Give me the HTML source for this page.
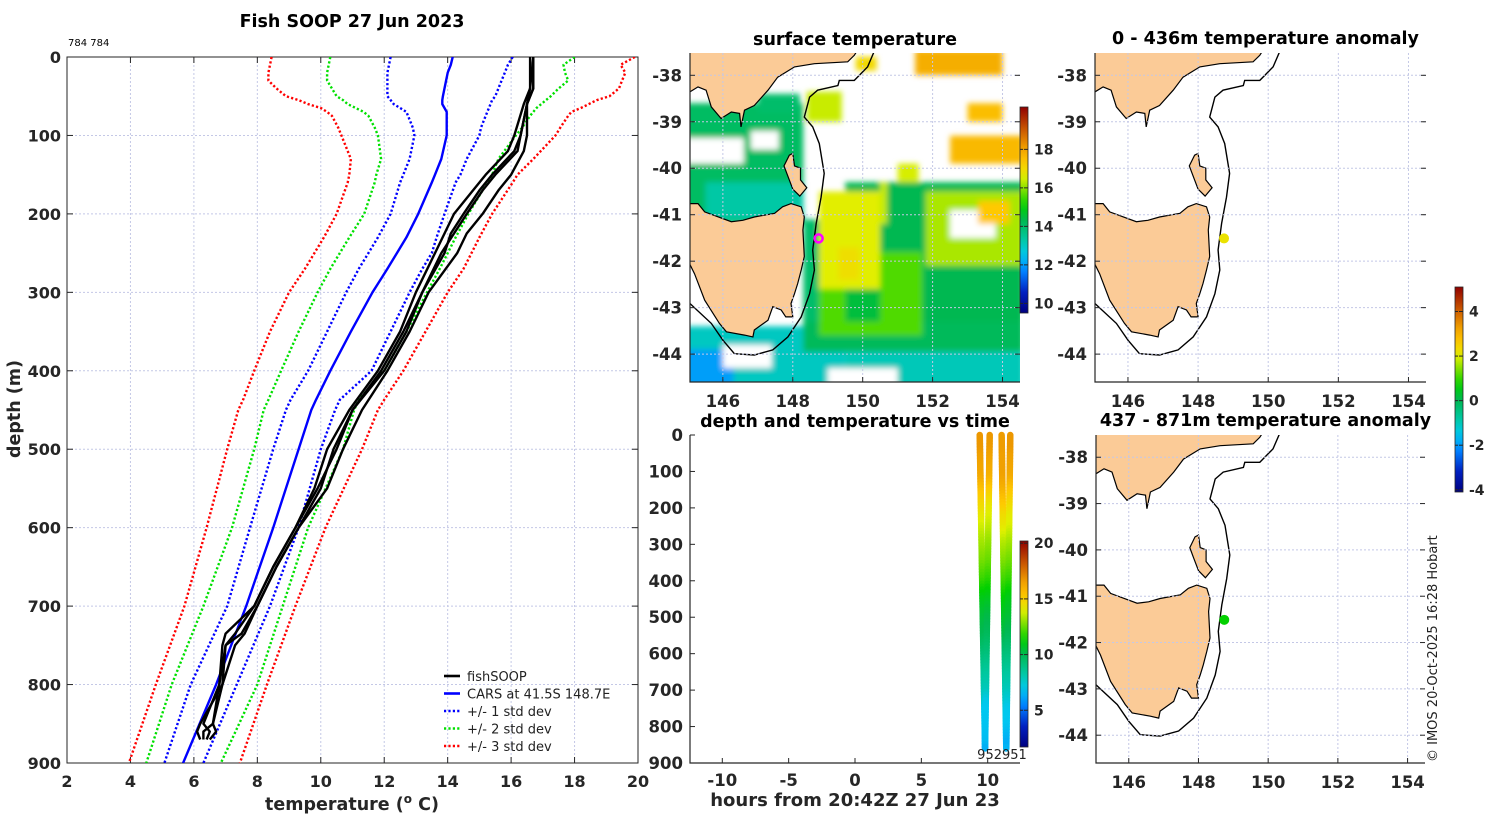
<!DOCTYPE html>
<html><head><meta charset="utf-8">
<style>
html,body{margin:0;padding:0;background:#fff;}
svg{display:block;font-family:"DejaVu Sans","Liberation Sans",sans-serif;}
.tl{font-weight:bold;fill:#262626;}
.ttl{font-weight:bold;fill:#000;}
</style></head>
<body>
<svg id="fig" width="1500" height="820" viewBox="0 0 1500 820" xmlns="http://www.w3.org/2000/svg">
<defs>
<filter id="blur2" filterUnits="userSpaceOnUse" x="680" y="40" width="350" height="360"><feGaussianBlur stdDeviation="3"/></filter>
<clipPath id="clipSST"><rect x="690" y="53" width="330" height="329"/></clipPath>
<clipPath id="clipA1"><rect x="1095" y="53" width="331" height="329"/></clipPath>
<clipPath id="clipA2"><rect x="1096" y="435" width="329" height="328"/></clipPath>
<clipPath id="clipMain"><rect x="67" y="57" width="571" height="706"/></clipPath>
</defs>
<g id="profile"></g>
<g id="sst"></g>
<g id="tvt"></g>
<g id="anom1"></g>
<g id="anom2"></g>
</svg>
<script>
// ---------- data ----------
const stdDepths = [0,10,20,30,40,50,55,60,65,70,75,90,100,130,150,160,200,230,250,270,300,350,400,437,450,500,600,700,800,900];
const carsMean = [14.16,14.1,14.0,13.95,13.9,13.85,13.83,13.83,13.9,13.97,13.97,13.97,13.97,13.8,13.6,13.5,13.07,12.7,12.4,12.1,11.63,10.95,10.3,9.85,9.7,9.3,8.5,7.65,6.7,5.66];
const minus1 = [12.2,12.15,12.1,12.1,12.1,12.1,12.2,12.3,12.5,12.7,12.75,12.9,12.95,12.8,12.6,12.5,12.2,11.8,11.5,11.2,10.8,10.2,9.6,9.05,8.9,8.5,7.77,7.05,5.9,5.07];
const plus1 = [16.05,15.9,15.8,15.7,15.6,15.5,15.4,15.35,15.3,15.25,15.2,15.05,15.0,14.6,14.4,14.25,13.9,13.65,13.5,13.2,12.8,12.2,11.6,10.6,10.45,10.0,9.3,8.4,7.35,6.3];
const minus2 = [10.3,10.25,10.2,10.2,10.35,10.5,10.7,10.85,11.1,11.35,11.5,11.7,11.8,11.9,11.75,11.7,11.37,10.9,10.6,10.3,9.9,9.3,8.75,8.35,8.2,7.9,7.2,6.3,5.3,4.5];
const plus2 = [18.0,17.65,17.7,17.8,17.5,17.25,17.1,16.95,16.8,16.7,16.6,16.35,16.15,15.6,15.4,15.25,14.65,14.25,14.0,13.75,13.35,12.7,12.0,11.2,11.05,10.7,9.6,8.8,8.0,6.85];
const minus3 = [8.45,8.4,8.35,8.35,8.6,8.9,9.3,9.6,10.0,10.2,10.35,10.55,10.65,10.95,10.9,10.85,10.5,10.1,9.8,9.5,9.0,8.4,7.9,7.55,7.4,7.05,6.4,5.7,4.8,3.95];
const plus3 = [19.9,19.45,19.6,19.5,19.4,19.1,18.7,18.45,18.2,17.9,17.8,17.55,17.4,16.7,16.2,16.05,15.4,15.0,14.75,14.5,14.0,13.3,12.6,12.0,11.8,11.3,10.15,9.2,8.3,7.45];

const fishDepths = [0,40,60,100,120,150,170,200,225,250,300,350,400,450,500,550,600,650,700,735,750,800,850,860,870];
const cast1 = [16.7,16.7,16.5,16.3,16.2,15.5,15.1,14.6,14.2,13.8,13.2,12.7,12.0,11.0,10.4,10.0,9.3,8.6,8.0,7.5,7.0,6.9,6.2,6.1,6.2];
const cast2 = [16.7,16.6,16.4,16.1,15.9,15.2,14.8,14.2,13.9,13.6,13.0,12.5,11.8,10.9,10.2,9.8,9.2,8.5,7.9,7.0,6.9,6.8,6.6,6.3,6.3];
const cast3 = [16.6,16.6,16.5,16.5,16.4,16.0,15.6,15.1,14.6,14.3,13.4,12.8,12.1,11.3,10.7,10.2,9.3,8.6,8.0,7.6,7.3,6.9,6.6,6.7,6.5];
const cast4 = [16.7,16.7,16.5,16.3,16.1,15.4,15.0,14.5,14.1,13.9,13.2,12.6,11.9,11.0,10.5,9.9,9.2,8.5,7.9,7.3,7.0,6.8,6.3,6.5,6.4];
const tempTicks = [2,4,6,8,10,12,14,16,18,20];
const depthTicks = [0,100,200,300,400,500,600,700,800,900];

const castTopHours = [9.4,10.15,11.05,11.7];
const castBottomHours = [9.8,9.8,11.4,11.4];
const castMaxDepth = [860,860,860,860];
const hourTicks = [-10,-5,0,5,10];

const lonTicks = [146,148,150,152,154];
const latTicks = [-38,-39,-40,-41,-42,-43,-44];
const obsLon = [148.74];
const obsLat = [-41.51];
const anomUpper = [2.2];
const anomLower = [0.7];
const sstTicks = [10,12,14,16,18];
const anomTicks = [-4,-2,0,2,4];
const timeCbTicks = [5,10,15,20];

const tasmania = [[144.9,-40.76],[145.29,-40.76],[145.48,-40.94],[146.24,-41.15],[146.57,-41.12],[146.9,-41.05],[147.48,-40.97],[147.71,-40.83],[147.95,-40.76],[148.24,-40.83],[148.33,-41.05],[148.29,-41.33],[148.33,-41.9],[148.24,-42.19],[148.14,-42.48],[148.05,-42.7],[147.95,-42.91],[148.0,-43.2],[147.8,-43.2],[147.67,-43.05],[147.43,-42.98],[147.29,-43.27],[146.9,-43.48],[146.86,-43.63],[146.62,-43.59],[146.1,-43.52],[145.9,-43.34],[145.48,-42.84],[145.19,-42.27],[144.9,-41.83]];
const victoria = [[144.9,-38.43],[145.29,-38.25],[145.52,-38.32],[145.67,-38.68],[145.95,-38.93],[146.24,-38.79],[146.48,-38.82],[146.52,-39.11],[146.62,-38.75],[146.9,-38.65],[147.29,-38.32],[147.57,-38.04],[148.05,-37.82],[148.62,-37.75],[149.57,-37.71],[149.76,-37.57],[149.86,-37.45],[144.9,-37.45]];
const flinders = [[147.9,-39.72],[148.0,-39.68],[148.05,-39.95],[148.22,-40.0],[148.22,-40.25],[148.4,-40.42],[148.2,-40.6],[148.0,-40.45],[147.85,-40.15],[147.75,-39.95]];
const shelf = [[150.35,-37.45],[150.14,-37.82],[149.76,-38.11],[149.33,-38.11],[149.29,-38.22],[148.71,-38.32],[148.48,-38.47],[148.33,-38.9],[148.57,-39.11],[148.76,-39.47],[148.9,-40.11],[148.81,-40.62],[148.67,-41.19],[148.57,-41.76],[148.62,-42.19],[148.48,-42.7],[148.24,-43.2],[147.86,-43.63],[147.43,-43.91],[146.9,-44.02],[146.33,-43.99],[146.0,-43.7],[145.67,-43.34],[144.9,-42.8]];
const sstPatches = [
 [144.9,-38.6,148.3,-41.2,14.1],[144.9,-39.35,146.6,-39.9,null],[146.8,-39.2,147.6,-39.6,null],[147.0,-38.4,148.2,-38.8,14.0],
 [145.5,-40.3,148.3,-41.1,13.3],[148.3,-41.1,148.75,-43.5,14.0],
 [144.9,-43.4,149.5,-44.7,13.0],[144.9,-43.9,146.3,-44.7,12.0],[146.0,-43.8,147.4,-44.3,null],
 [149.5,-40.3,154.6,-43.4,14.3],[148.3,-43.3,154.6,-43.95,14.2],
 [148.75,-41.8,151.7,-43.6,15.6],[149.5,-42.6,150.5,-43.3,14.5],
 [148.75,-40.5,150.5,-42.6,16.6],[149.3,-41.7,149.9,-42.4,16.9],[150.5,-40.3,150.7,-41.2,16.4],
 [151.8,-40.5,154.6,-42.1,16.2],[152.5,-40.9,153.8,-41.5,null],[153.3,-40.7,154.2,-41.2,17.3],
 [149.5,-43.95,154.6,-44.7,13.1],[149.0,-44.3,151.0,-44.7,null],
 [151.5,-37.45,154.0,-38.0,17.8],[152.5,-39.3,154.6,-39.9,17.6],[148.4,-38.35,149.4,-39.0,16.4],
 [149.8,-37.6,150.4,-37.9,17.0],[151.0,-39.9,151.6,-40.3,16.5],[153.0,-38.6,154.0,-39.0,17.5]
];

// ---------- helpers ----------
const NS = 'http://www.w3.org/2000/svg';
function el(tag, attrs, parent){const e=document.createElementNS(NS,tag);for(const k in attrs)e.setAttribute(k,attrs[k]);parent.appendChild(e);return e;}
const cmapStops=[[0,'#00007f'],[0.1,'#0020c0'],[0.2,'#0080ff'],[0.28,'#00c8f0'],[0.36,'#00c8a0'],[0.45,'#00b850'],[0.52,'#00d000'],[0.6,'#80e000'],[0.66,'#e0f000'],[0.73,'#ffc800'],[0.8,'#f0a000'],[0.88,'#d06000'],[1,'#900000']];
function hex(h){return [parseInt(h.slice(1,3),16),parseInt(h.slice(3,5),16),parseInt(h.slice(5,7),16)];}
function cmap(f){f=Math.max(0,Math.min(1,f));for(let i=1;i<cmapStops.length;i++){if(f<=cmapStops[i][0]){const a=cmapStops[i-1],b=cmapStops[i];const t=(f-a[0])/(b[0]-a[0]);const ca=hex(a[1]),cb=hex(b[1]);return 'rgb('+ca.map((v,j)=>Math.round(v+(cb[j]-v)*t)).join(',')+')';}}return cmapStops[cmapStops.length-1][1];}
function text(parent,x,y,s,cls,anchor,size){const t=el('text',{x:x,y:y,'text-anchor':anchor||'middle'},parent);if(cls)t.setAttribute('class',cls);t.style.fontSize=(size||15)+'px';t.textContent=s;return t;}
function interp(xs,ys,x){for(let i=1;i<xs.length;i++){if(x<=xs[i]){const t=(x-xs[i-1])/(xs[i]-xs[i-1]);return ys[i-1]+(ys[i]-ys[i-1])*t;}}return ys[ys.length-1];}

// ---------- profile chart ----------
(function(){
const g=document.getElementById('profile');
const X0=67,X1=638,Y0=57,Y1=763;
const sx=t=>X0+(t-2)*(X1-X0)/18, sy=d=>Y0+d*(Y1-Y0)/900;
const title=text(g,352,27,'Fish SOOP 27 Jun 2023','ttl','middle',17.5);


const small=text(g,68,46,'784 784',null,'start',10);


tempTicks.forEach(t=>{const gl=el('line',{x1:sx(t),x2:sx(t),y1:Y0,y2:Y1,stroke:'#c4c8e6','stroke-width':1,'stroke-dasharray':'2 2'},g);


el('line',{x1:sx(t),x2:sx(t),y1:Y1,y2:Y1-6,stroke:'#262626'},g);el('line',{x1:sx(t),x2:sx(t),y1:Y0,y2:Y0+6,stroke:'#262626'},g);
const lb=text(g,sx(t),787,String(t),'tl','middle',16);

});
depthTicks.forEach(d=>{const gl=el('line',{x1:X0,x2:X1,y1:sy(d),y2:sy(d),stroke:'#c4c8e6','stroke-width':1,'stroke-dasharray':'2 2'},g);


el('line',{x1:X0,x2:X0+6,y1:sy(d),y2:sy(d),stroke:'#262626'},g);el('line',{x1:X1,x2:X1-6,y1:sy(d),y2:sy(d),stroke:'#262626'},g);
const lb=text(g,61,sy(d)+6,String(d),'tl','end',16);

});
const box=el('rect',{x:X0,y:Y0,width:X1-X0,height:Y1-Y0,fill:'none',stroke:'#262626','stroke-width':1},g);


const xl=el('text',{x:352,y:810,'text-anchor':'middle',class:'tl'},g);
xl.style.fontSize='17.5px';
xl.innerHTML='temperature (<tspan dy="-7" style="font-size:12px">o</tspan><tspan dy="7"> C)</tspan>';


const yl=text(g,0,0,'depth (m)','tl','middle',17.5);yl.setAttribute('transform','translate(20,409) rotate(-90)');


const cg=el('g',{'clip-path':'url(#clipMain)'},g);
function line(vals,depths,color,dotted,name,w){const d=vals.map((v,i)=>(i?'L':'M')+sx(v).toFixed(1)+' '+sy(depths[i]).toFixed(1)).join(' ');
const p=el('path',{d:d,fill:'none',stroke:color,'stroke-width':w||2.4,'stroke-linejoin':'round'},cg);if(dotted)p.setAttribute('stroke-dasharray','2.2 2.2');

}
line(minus3,stdDepths,'#ff0000',true,'minus-3-std-line');line(plus3,stdDepths,'#ff0000',true,'plus-3-std-line');
line(minus2,stdDepths,'#00e000',true,'minus-2-std-line');line(plus2,stdDepths,'#00e000',true,'plus-2-std-line');
line(minus1,stdDepths,'#0000ff',true,'minus-1-std-line');line(plus1,stdDepths,'#0000ff',true,'plus-1-std-line');
line(carsMean,stdDepths,'#0000ff',false,'cars-mean-line',2.4);
[cast1,cast2,cast3,cast4].forEach((c,i)=>line(c,fishDepths,'#000',false,'fishsoop-cast-'+(i+1),2.4));
const leg=[['fishSOOP','#000',false],['CARS at 41.5S 148.7E','#0000ff',false],['+/- 1 std dev','#0000ff',true],['+/- 2 std dev','#00e000',true],['+/- 3 std dev','#ff0000',true]];
leg.forEach((L,i)=>{const y=676+i*17.5;const lg=el('g',{},g);


const ln=el('line',{x1:444,x2:460,y1:y,y2:y,stroke:L[1],'stroke-width':2.6},lg);if(L[2])ln.setAttribute('stroke-dasharray','2.2 2.2');
const t=text(lg,467,y+5,L[0],null,'start',13);t.setAttribute('fill','#222');});
})();

// ---------- maps ----------
function mapProj(x0,x1,y0,y1){const lonA=145.06,lonB=154.5,latA=-37.52,latB=-44.6;
return {x:l=>x0+(l-lonA)*(x1-x0)/(lonB-lonA), y:l=>y0+(l-latA)*(y1-y0)/(latB-latA)};}
function poly(pts,P){return pts.map((p,i)=>(i?'L':'M')+P.x(p[0]).toFixed(1)+' '+P.y(p[1]).toFixed(1)).join(' ')+' Z';}
function drawMapBase(g,P,x0,x1,y0,y1,clip,field){
const cg=el('g',{'clip-path':'url(#'+clip+')'},g);
if(field)field(cg);
[tasmania,victoria,flinders].forEach((pg,i)=>{const p=el('path',{d:poly(pg,P),fill:'#fbcb97',stroke:'#000','stroke-width':1.2},cg);

});
const sh=el('path',{d:shelf.map((p,i)=>(i?'L':'M')+P.x(p[0]).toFixed(1)+' '+P.y(p[1]).toFixed(1)).join(' '),fill:'none',stroke:'#000','stroke-width':1.4},cg);


lonTicks.forEach(l=>{const gl=el('line',{x1:P.x(l),x2:P.x(l),y1:y0,y2:y1,stroke:'#c4c8e6','stroke-dasharray':'2 2'},cg);


el('line',{x1:P.x(l),x2:P.x(l),y1:y1,y2:y1-5,stroke:'#262626'},g);
const t=text(g,P.x(l),y1+25,String(l),'tl','middle',16.5);

});
latTicks.forEach(l=>{const gl=el('line',{x1:x0,x2:x1,y1:P.y(l),y2:P.y(l),stroke:'#c4c8e6','stroke-dasharray':'2 2'},cg);


el('line',{x1:x0,x2:x0+5,y1:P.y(l),y2:P.y(l),stroke:'#262626'},g);
el('line',{x1:x1,x2:x1-5,y1:P.y(l),y2:P.y(l),stroke:'#262626'},g);
const t=text(g,x0-8,P.y(l)+6,String(l),'tl','end',16.5);

});
el('path',{d:'M'+x0+' '+y0+' V'+y1+' H'+x1,fill:'none',stroke:'#262626','stroke-width':1.2},g);
return cg;}
function colorbar(g,x,y0,y1,vmin,vmax,ticks,name){
const id='grad'+name;const defs=document.querySelector('defs');
const lg=el('linearGradient',{id:id,x1:0,y1:1,x2:0,y2:0},defs);
for(let i=0;i<=20;i++)el('stop',{offset:i/20,'stop-color':cmap(i/20)},lg);
const r=el('rect',{x:x,y:y0,width:8,height:y1-y0,fill:'url(#'+id+')',stroke:'#262626','stroke-width':0.8},g);


ticks.forEach(v=>{const y=y1-(v-vmin)/(vmax-vmin)*(y1-y0);el('line',{x1:x+8,x2:x+4,y1:y,y2:y,stroke:'#262626'},g);el('line',{x1:x,x2:x+3,y1:y,y2:y,stroke:'#262626'},g);
const t=text(g,x+14,y+5,String(v),'tl','start',14);

});}

(function(){
const g=document.getElementById('sst');const P=mapProj(690,1020,53,382);
const sMin=9.5,sMax=20.2;
drawMapBase(g,P,690,1020,53,382,'clipSST',function(cg){
const fg=el('g',{filter:'url(#blur2)'},cg);
sstPatches.forEach(p=>{const r=el('rect',{x:P.x(p[0]),y:P.y(p[1]),width:P.x(p[2])-P.x(p[0]),height:P.y(p[3])-P.y(p[1]),fill:p[4]===null?'#fff':cmap((p[4]-sMin)/(sMax-sMin))},fg);

});});
const tt=text(g,855,45,'surface temperature','ttl','middle',17.5);


const m=el('circle',{cx:P.x(obsLon[0]),cy:P.y(obsLat[0]),r:4,fill:'none',stroke:'#ff00ff','stroke-width':2.5},g);


colorbar(g,1020,107,313,sMin,sMax,sstTicks,'sst');
})();

function anomMap(id,x0,x1,y0,y1,clip,title,vals){
const g=document.getElementById(id);const P=mapProj(x0,x1,y0,y1);
drawMapBase(g,P,x0,x1,y0,y1,clip,null);
const tt=text(g,(x0+x1)/2+5,y0-9,title,'ttl','middle',17.5);


const c=el('circle',{cx:P.x(obsLon[0]),cy:P.y(obsLat[0]),r:5,fill:cmap((vals[0]+4.1)/9.2)},g);

}
anomMap('anom1',1095,1426,53,382,'clipA1','0 - 436m temperature anomaly',anomUpper);
anomMap('anom2',1096,1425,435,763,'clipA2','437 - 871m temperature anomaly',anomLower);
colorbar(document.getElementById('anom1'),1455,287,492,-4.1,5.1,anomTicks,'anomaly');
(function(){const g=document.getElementById('anom2');
const t=text(g,0,0,'© IMOS 20-Oct-2025 16:28 Hobart',null,'start',13);t.setAttribute('transform','translate(1437,762) rotate(-90)');t.setAttribute('fill','#222');

})();

// ---------- time plot ----------
(function(){
const g=document.getElementById('tvt');
const X0=690,X1=1020,Y0=435,Y1=763;
const sx=h=>855+h*13.27, sy=d=>Y0+d*(Y1-Y0)/900;
const tMin=1.7,tMax=20.2;
const tt=text(g,855,427,'depth and temperature vs time','ttl','middle',17.5);


el('path',{d:'M'+X0+' '+Y0+' V'+Y1+' H'+X1,fill:'none',stroke:'#262626','stroke-width':1.2},g);
depthTicks.forEach(d=>{el('line',{x1:X0,x2:X0+5,y1:sy(d),y2:sy(d),stroke:'#262626'},g);
const t=text(g,X0-7,sy(d)+6,String(d),'tl','end',16.5);

});
hourTicks.forEach(h=>{el('line',{x1:sx(h),x2:sx(h),y1:Y1,y2:Y1-5,stroke:'#262626'},g);
const t=text(g,sx(h),Y1+23,String(h),'tl','middle',16.5);

});
const xl=text(g,855,806,'hours from 20:42Z 27 Jun 23','tl','middle',18);


const casts=[cast1,cast2,cast3,cast4];
casts.forEach((c,i)=>{const cg=el('g',{},g);


const dm=castMaxDepth[i];
for(let d=0;d<dm;d+=8){const d2=Math.min(d+8,dm);
const h1=castTopHours[i]+(castBottomHours[i]-castTopHours[i])*d/dm,h2=castTopHours[i]+(castBottomHours[i]-castTopHours[i])*d2/dm;
const T=interp(fishDepths,c,(d+d2)/2);
el('line',{x1:sx(h1),y1:sy(d),x2:sx(h2),y2:sy(d2),stroke:cmap((T-tMin)/(tMax-tMin)),'stroke-width':6.5,'stroke-linecap':'round'},cg);}});
const lb=text(g,1002,759,'952951',null,'middle',13);lb.setAttribute('fill','#222');


colorbar(g,1020,541,747,tMin,tMax,timeCbTicks,'time-temperature');
})();
</script>
</body></html>
